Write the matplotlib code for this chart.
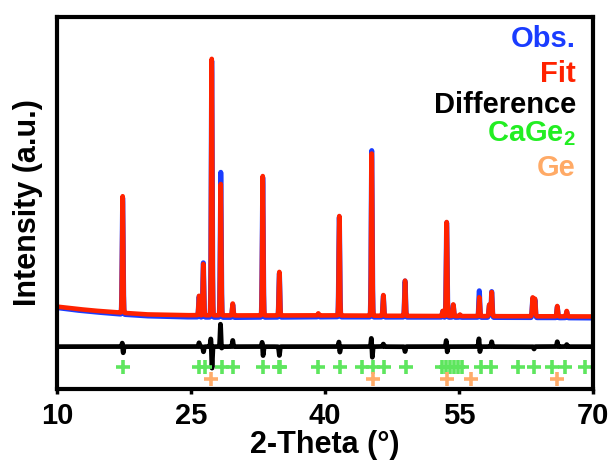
import matplotlib
matplotlib.use("Agg")
import matplotlib.pyplot as plt
import numpy as np

plt.rcParams['font.family'] = ['Liberation Sans', 'DejaVu Sans']
plt.rcParams['font.weight'] = 'bold'
plt.rcParams['mathtext.fontset'] = 'custom'
plt.rcParams['mathtext.rm'] = 'Liberation Sans'
plt.rcParams['mathtext.bf'] = 'Liberation Sans:bold'

peak_pos = [17.35, 25.90, 26.38, 27.32, 28.33, 29.67, 33.03, 34.89, 39.25, 41.60,
            45.23, 46.53, 48.96, 53.18, 53.62, 54.36, 55.11, 57.27, 58.39, 58.66,
            63.25, 63.50, 66.00, 67.06]
obs_h = [45.0, 8.0, 21.0, 99.0, 56.0, 5.0, 54.0, 17.0, 1.0, 38.6,
         64.3, 8.2, 14.0, 2.3, 36.5, 4.7, 0.8, 10.3, 4.7, 10.0,
         7.5, 7.0, 4.2, 2.3]
fit_h = [45.0, 7.5, 19.8, 99.0, 50.7, 4.6, 53.8, 16.8, 0.8, 38.4,
         62.6, 8.0, 13.6, 2.0, 36.3, 4.5, 0.6, 7.3, 4.5, 9.3,
         7.3, 6.8, 4.0, 2.1]

# background read at a few points
bg_x = [10, 12, 14, 17, 20, 24, 30, 40, 50, 60, 70]
obs_bg = [3.2, 2.3, 1.6, 0.7, 0.0, -0.4, -0.6, -0.4, -0.5, -0.6, -0.8]
fit_bg = [3.6, 2.8, 2.1, 1.3, 0.6, 0.3, 0.2, 0.2, 0.0, -0.1, -0.2]

# difference spikes: position, amplitude
diff_pos = [17.32, 17.40, 25.90, 26.40, 27.22, 27.35, 28.30, 28.40, 29.67, 32.98,
            33.06, 34.89, 41.57, 41.65, 45.20, 45.28, 46.53, 48.96, 53.58, 53.66,
            57.24, 57.32, 58.66, 63.40, 66.00, 67.06]
diff_amp = [1.9, -2.8, 1.5, -2.0, 3.2, -8.4, 8.8, -1.0, 2.4, 2.4,
            -4.0, -3.4, 2.3, -2.6, 4.2, -5.0, 1.0, -1.9, 2.9, -2.6,
            3.6, -2.6, 1.9, -0.9, 1.9, 0.8]
diff_offset = -11.85

# reflection markers
cage2_pos = [17.41, 25.85, 26.55, 28.42, 29.68, 33.02, 34.80, 34.96, 39.23, 41.64,
             44.15, 45.40, 46.55, 49.03, 53.10, 53.55, 54.00, 54.45, 54.90, 55.30,
             57.50, 58.62, 61.62, 63.45, 65.38, 66.85, 69.15]
ge_pos = [27.24, 45.34, 53.62, 56.31, 66.00]
cage2_y = -19.6
ge_y = -24.3

tt = np.arange(10, 70.001, 0.005)


def pattern(heights, bg):
    y = np.interp(tt, bg_x, bg)
    for p, h in zip(peak_pos, heights):
        y = y + h * np.exp(-0.5 * ((tt - p) / 0.06) ** 2)
    return y


obs = pattern(obs_h, obs_bg)
fit = pattern(fit_h, fit_bg)
diff = np.full_like(tt, diff_offset)
for p, a in zip(diff_pos, diff_amp):
    diff = diff + a * np.exp(-0.5 * ((tt - p) / 0.05) ** 2)

fig = plt.figure(figsize=(6.12, 4.66), dpi=100)
ax = fig.add_axes([57 / 612, 77 / 466, 536 / 612, 372 / 466])

ax.plot(tt, obs, color="#1a3cff", lw=3.6, solid_capstyle="round")
ax.plot(tt, fit, color="#ff2200", lw=3.3, solid_capstyle="round")
ax.plot(tt, diff, color="black", lw=3.4)
ax.plot(cage2_pos, [cage2_y] * len(cage2_pos), "+", color="#5ee65e", ms=9.5, mew=2.6)
ax.plot(ge_pos, [ge_y] * len(ge_pos), "+", color="#ffac6a", ms=9.5, mew=2.6)

ax.set_xlim(10, 70)
ax.set_ylim(-28.2, 115.4)
ax.set_xticks([10, 25, 40, 55, 70])
ax.set_yticks([])
ax.tick_params(axis="x", direction="out", length=3.5, width=2.5, pad=6, labelsize=21)
for s in ax.spines.values():
    s.set_linewidth(3)
ax.set_xlabel("2-Theta (°)", fontsize=22, fontweight="bold", labelpad=0)
ax.set_ylabel("Intensity (a.u.)", fontsize=22, fontweight="bold", labelpad=10)

labels = ["Obs.", "Fit", "Difference", r"CaGe$_\mathrm{2}$", "Ge"]
colors = ["#1a3cff", "#ff2200", "black", "#22ee22", "#ffaa66"]
ypos = [0.919, 0.825, 0.742, 0.667, 0.573]
for lb, c, yy in zip(labels, colors, ypos):
    ax.text(0.968, yy, lb, color=c, transform=ax.transAxes, ha="right", va="baseline",
            fontsize=21, fontweight="bold")

fig.savefig("out.png", dpi=100)
